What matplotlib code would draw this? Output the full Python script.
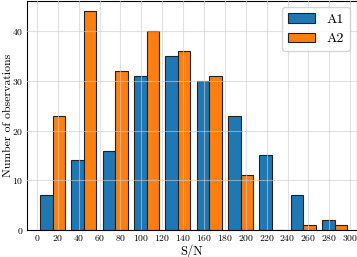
import matplotlib
matplotlib.use("Agg")
import matplotlib.pyplot as plt
import matplotlib.transforms as mtransforms
import numpy as np

plt.rcParams['font.family'] = 'cmr10'
plt.rcParams['mathtext.fontset'] = 'cm'
plt.rcParams['axes.formatter.use_mathtext'] = True

bin_edges = [0, 30, 60, 90, 120, 150, 180, 210, 240, 270, 300]
a1_counts = [7, 14, 16, 31, 35, 30, 23, 15, 7, 2]
a2_counts = [23, 44, 32, 40, 36, 31, 11, 0, 1, 1]
labels = ['A1', 'A2']
xticks = list(range(0, 301, 20))

centers = [(bin_edges[i] + bin_edges[i + 1]) / 2 for i in range(len(bin_edges) - 1)]

W, H = 357, 257
fig = plt.figure(figsize=(W / 100, H / 100), dpi=100)
ax = fig.add_axes([26.5/W, 1 - 230/H, 1 - 26.5/W - 0.5/W, 230/H - 0.5/H])
ax.hist([centers, centers], bins=bin_edges, weights=[a1_counts, a2_counts],
        color=['#1f77b4', '#ff7f0e'], edgecolor='#222222', linewidth=0.8,
        label=labels)
ax.set_xlim(-10, 306)
ax.set_ylim(0, 46.2)
ax.set_xticks(xticks)
ax.set_yticks([0, 10, 20, 30, 40])
ax.tick_params(labelsize=7, length=0, width=0.6, pad=2.5)
ax.set_axisbelow(False)
ax.grid(True, color='#cccccc', alpha=0.6, linewidth=0.8)
ax.set_xlabel('S/N', fontsize=9, labelpad=0.5)
ax.set_ylabel('Number of observations', fontsize=8.5)
ax.yaxis.set_label_coords(12.8 / W, 0.5, transform=mtransforms.blended_transform_factory(fig.transFigure, ax.transAxes))
for s in ax.spines.values():
    s.set_linewidth(0.8)
ax.legend(loc='upper right', fontsize=10, handlelength=2.0, framealpha=0.8,
          borderaxespad=0.5, handletextpad=0.8)
fig.savefig('out.png', dpi=100)
